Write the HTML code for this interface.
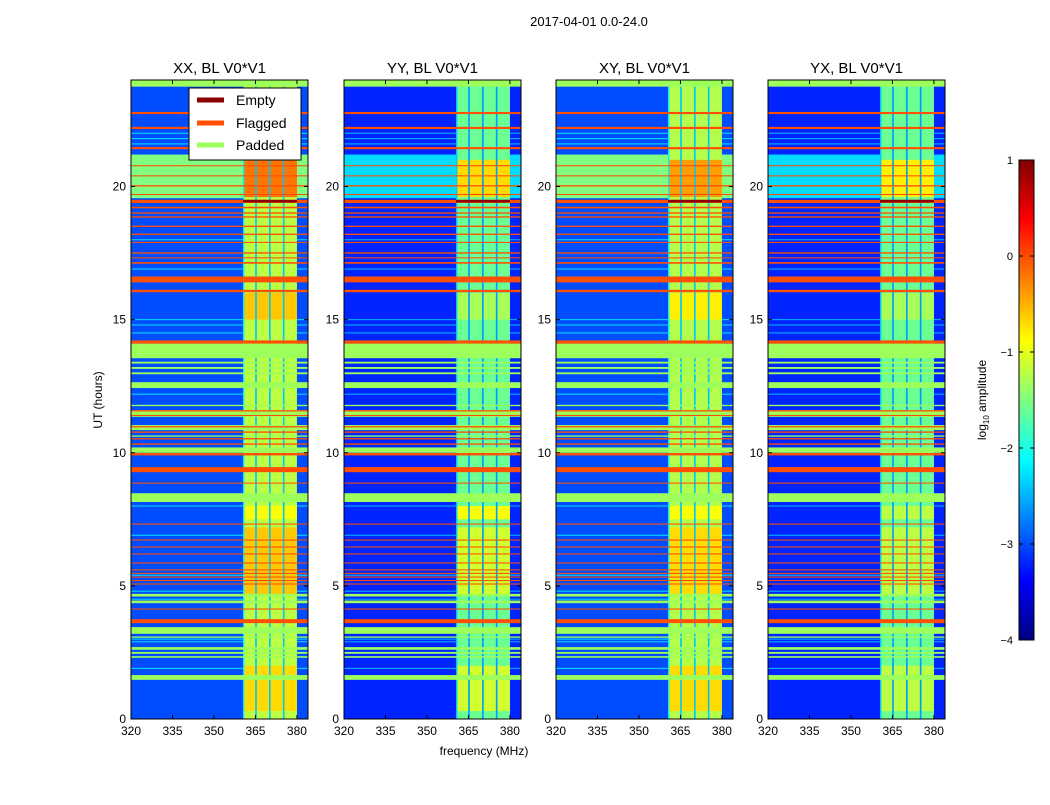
<!DOCTYPE html>
<html><head><meta charset="utf-8">
<style>
body{margin:0;background:#fff;}
svg text{font-family:"Liberation Sans",sans-serif;fill:#000;}
</style></head>
<body>
<svg id="fig" width="1050" height="800" viewBox="0 0 1050 800" xmlns="http://www.w3.org/2000/svg">
<defs>
<linearGradient id="jet" x1="0" y1="1" x2="0" y2="0">
<stop offset="0" stop-color="#00007f"/><stop offset="0.125" stop-color="#0000ff"/>
<stop offset="0.375" stop-color="#00ffff"/><stop offset="0.625" stop-color="#ffff00"/>
<stop offset="0.875" stop-color="#ff0000"/><stop offset="1" stop-color="#7f0000"/>
</linearGradient>
</defs>
<text x="589" y="26" font-size="13" text-anchor="middle">2017-04-01 0.0-24.0</text>
<text x="484" y="755" font-size="12" text-anchor="middle">frequency (MHz)</text>
<text x="0" y="0" font-size="12" text-anchor="middle" transform="translate(102,400) rotate(-90)">UT (hours)</text>
<g id="panels"></g>
<g id="cbar"></g>
</svg>
<script>
// ---- data ----
const panelTitles = ["XX, BL V0*V1","YY, BL V0*V1","XY, BL V0*V1","YX, BL V0*V1"];
const xTicks = [320,335,350,365,380];
const yTicks = [0,5,10,15,20];
const cbTicks = [-4,-3,-2,-1,0,1];
const bgLevel = [-3.0,-3.2,-3.0,-3.2];
const bandLevel = [-1.5,-2.3,-1.5,-2.3];
const sigLevel = [-1.2,-1.6,-1.25,-1.6];
const brightBand = [19.56,21.2];
const sigRange = [360.5,380];
const sigGaps = [364.9,369.9,374.9];
const hotRanges = [[19.6,21.0],[15.0,16.0],[4.6,7.2],[0.3,2.0],[7.5,8.0]];
const hotLevel = [[-0.2,-0.7,-0.4,-0.8],[-0.6,-1.3,-0.8,-1.3],[-0.6,-1.1,-0.7,-1.2],[-0.7,-1.1,-0.7,-1.2],[-0.9,-0.9,-0.9,-1.2]];
const cyanLines = [22.0,21.8,21.6,18.0,16.9,15.0,14.8,14.5,12.2,8.0,6.9,5.4,4.5,4.8,2.9,1.9,3.0];
const padBands = [[23.75,24],[13.55,14.1],[13.35,13.42],[13.15,13.22],[12.95,13.02],[12.43,12.65],[11.35,11.6],[10.85,11.04],[10.0,10.2],[8.15,8.48],[4.35,4.45],[4.6,4.7],[3.2,3.45],[3.05,3.1],[2.6,2.7],[2.45,2.52],[2.3,2.36],[1.47,1.65],[11.75,11.8],[10.6,10.65]];
const flagLines = [[22.72,22.8],[22.16,22.24],[21.4,21.48],[20.76,20.8],[20.38,20.42],[20.0,20.05],[19.68,19.72],[19.38,19.5],[19.18,19.24],[18.98,19.03],[18.83,18.88],[18.48,18.53],[18.18,18.23],[17.88,17.92],[17.48,17.53],[17.3,17.34],[17.1,17.16],[16.4,16.62],[16.03,16.12],[14.1,14.22],[11.55,11.6],[11.38,11.42],[10.95,11.0],[10.75,10.8],[10.5,10.55],[10.3,10.35],[9.9,9.99],[9.27,9.46],[8.84,8.88],[7.3,7.34],[6.7,6.74],[6.44,6.48],[6.18,6.22],[5.84,5.88],[5.58,5.62],[5.45,5.49],[5.31,5.35],[5.18,5.22],[5.05,5.09],[4.11,4.15],[3.6,3.75]];
const emptyLines = [[19.4,19.5]];

// ---- layout ----
const NS="http://www.w3.org/2000/svg";
const panelX=[131,344,556,768], PW=177, PT=80, PH=639;
const fMin=320,fMax=384,tMin=0,tMax=24;
const FLAG="#ff4f00", PAD="#9cff5c", EMPTY="#8b0000";
function jet(v){let t=(v+4)/5;t=Math.max(0,Math.min(1,t));
 const f=(x)=>Math.max(0,Math.min(1,x));
 const r=f(Math.min(4*t-1.5,-4*t+4.5)),g=f(Math.min(4*t-0.5,-4*t+3.5)),b=f(Math.min(4*t+0.5,-4*t+2.5));
 return `rgb(${Math.round(r*255)},${Math.round(g*255)},${Math.round(b*255)})`;}
function mk(tag,attrs,parent){const e=document.createElementNS(NS,tag);for(const k in attrs)e.setAttribute(k,attrs[k]);parent.appendChild(e);return e;}
const root=document.getElementById('panels');
panelTitles.forEach((title,p)=>{
 const x0=panelX[p];
 const xs=f=>x0+(f-fMin)/(fMax-fMin)*PW;
 const ys=h=>PT+PH-(h-tMin)/(tMax-tMin)*PH;
 const g=mk('g',{},root);
 
 
 const hm=mk('g',{},g);
 
 
 const band=(h0,h1,f0,f1,col,name)=>{const r=mk('rect',{x:xs(f0),y:ys(h1),width:xs(f1)-xs(f0),height:Math.max(1,ys(h0)-ys(h1)),fill:col},hm);
  
  return r;};
 band(tMin,tMax,fMin,fMax,jet(bgLevel[p]),'background-cell');
 cyanLines.forEach(h=>band(h-0.02,h+0.02,fMin,fMax,jet(bgLevel[p]+0.7),'cyan-line'));
 band(brightBand[0],brightBand[1],fMin,sigRange[0],jet(bandLevel[p]),'bright-band');
 band(brightBand[0],brightBand[1],sigRange[1],fMax,jet(bandLevel[p]),'bright-band');
 band(tMin,tMax,sigRange[0],sigRange[1],jet(sigLevel[p]),'signal-band');
 hotRanges.forEach((r,i)=>band(r[0],r[1],sigRange[0],sigRange[1],jet(hotLevel[i][p]),'signal-hot'));
 band(tMin,tMax,sigRange[0],sigRange[0]+0.5,jet(bgLevel[p]+0.8),'signal-edge');
 sigGaps.forEach(f=>band(tMin,tMax,f,f+0.6,jet(bgLevel[p]+0.6),'signal-gap'));
 padBands.forEach(b=>band(b[0],b[1],fMin,fMax,PAD,'padded-band'));
 flagLines.forEach(b=>band(b[0],b[1],fMin,fMax,FLAG,'flagged-line'));
 emptyLines.forEach(b=>band(b[0],b[1],sigRange[0],sigRange[1],EMPTY,'empty-line'));
 const fr=mk('rect',{x:x0,y:PT,width:PW,height:PH,fill:'none',stroke:'#000','stroke-width':1},g);
 
 
 const t=mk('text',{x:x0+PW/2,y:PT-7,'font-size':15,'text-anchor':'middle'},g);t.textContent=title;
 
 
 xTicks.forEach(v=>{const x=xs(v);
  mk('line',{x1:x,x2:x,y1:PT+PH,y2:PT+PH-4,stroke:'#000'},g);
  mk('line',{x1:x,x2:x,y1:PT,y2:PT+4,stroke:'#000'},g);
  const l=mk('text',{x:x,y:PT+PH+16,'font-size':12,'text-anchor':'middle'},g);l.textContent=v;
  
  });
 yTicks.forEach(v=>{const y=ys(v);
  mk('line',{x1:x0,x2:x0+4,y1:y,y2:y,stroke:'#000'},g);
  mk('line',{x1:x0+PW,x2:x0+PW-4,y1:y,y2:y,stroke:'#000'},g);
  const l=mk('text',{x:x0-5,y:y+4,'font-size':12,'text-anchor':'end'},g);l.textContent=v;
  
  });
});
// legend
const lg=mk('g',{},root);


mk('rect',{x:189,y:88,width:112,height:72,fill:'#fff',stroke:'#000'},lg);
[["Empty",EMPTY,100],["Flagged",FLAG,123],["Padded",PAD,145]].forEach(e=>{
 const it=mk('g',{},lg);
 
 
 mk('line',{x1:197,x2:224,y1:e[2],y2:e[2],stroke:e[1],'stroke-width':5},it);
 const t=mk('text',{x:236,y:e[2]+5,'font-size':14},it);t.textContent=e[0];});
// colorbar
const cb=document.getElementById('cbar');
const CX=1019,CW=15,CT=160,CH=480;
mk('rect',{x:CX,y:CT,width:CW,height:CH,fill:'url(#jet)',stroke:'#000'},cb);
cbTicks.forEach(v=>{const y=CT+CH-(v+4)/5*CH;
 mk('line',{x1:CX,x2:CX+4,y1:y,y2:y,stroke:'#000'},cb);
 mk('line',{x1:CX+CW,x2:CX+CW-4,y1:y,y2:y,stroke:'#000'},cb);
 const l=mk('text',{x:CX-6,y:y+4,'font-size':11,'text-anchor':'end'},cb);l.textContent=v<0?'\u2212'+(-v):v;
 
 });
const cl=mk('text',{'font-size':12,'text-anchor':'middle',transform:'translate(986,400) rotate(-90)'},cb);
cl.innerHTML='log<tspan font-size="8" dy="3">10</tspan><tspan dy="-3"> amplitude</tspan>';


</script>
</body></html>
